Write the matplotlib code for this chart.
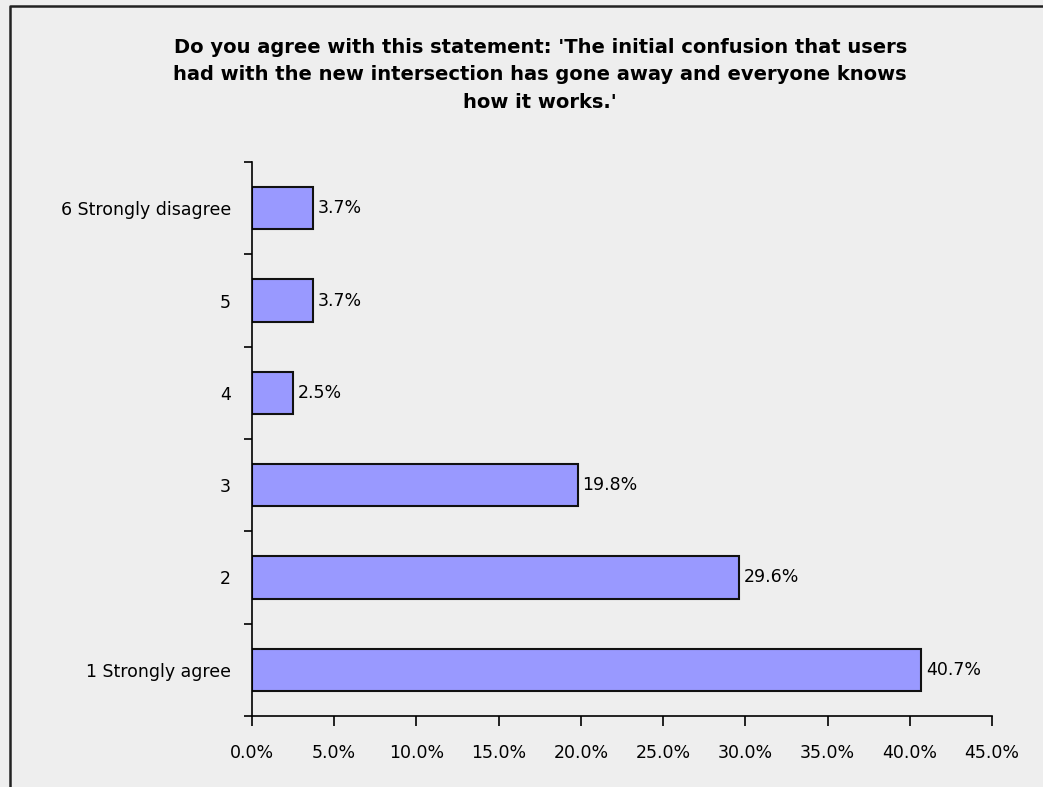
import numpy as np
import matplotlib.pyplot as plt
from matplotlib.lines import Line2D

categories = ['1 Strongly agree', '2', '3', '4', '5', '6 Strongly disagree']
values = [40.7, 29.6, 19.8, 2.5, 3.7, 3.7]
xticks = [0, 5, 10, 15, 20, 25, 30, 35, 40, 45]

title = ("Do you agree with this statement: 'The initial confusion that users\n"
         "had with the new intersection has gone away and everyone knows\n"
         "how it works.'")

bg = '#eeeeee'
fig = plt.figure(figsize=(10.43, 7.87), dpi=100, facecolor=bg)
# outer frame: only left and top edges are visible
fx, fy = 10 / 1043, 1 - 6 / 787
fig.lines.append(Line2D([fx, fx, 1.01], [-0.01, fy, fy], transform=fig.transFigure,
                        color='#222222', linewidth=1.8))

ax = fig.add_axes([252 / 1043, 1 - 716 / 787, (992 - 252) / 1043, (716 - 162) / 787])
ax.set_facecolor(bg)

y = np.arange(len(categories))
ax.barh(y, values, height=0.46, color='#9999ff', edgecolor='#111111', linewidth=1.5)
for yi, v in zip(y, values):
    ax.text(v + 0.3, yi, '%.1f%%' % v, va='center', ha='left', fontsize=12.5)

ax.set_xlim(0, 45)
ax.set_ylim(-0.5, len(categories) - 0.5)
ax.set_xticks(xticks)
ax.set_xticklabels(['%.1f%%' % t for t in xticks], fontsize=12.5)
ax.set_yticks(np.arange(-0.5, len(categories), 1.0))
ax.set_yticklabels([])
ax.set_yticks(y, minor=True)
ax.set_yticklabels(categories, minor=True, fontsize=12.5)
ax.tick_params(axis='y', which='minor', length=0, pad=15)
ax.tick_params(axis='y', which='major', length=6, width=1.2)
ax.tick_params(axis='x', length=7, width=1.2, pad=13, direction='out')
for s in ['top', 'right']:
    ax.spines[s].set_visible(False)
for s in ['left', 'bottom']:
    ax.spines[s].set_linewidth(1.2)

fig.text(0.518, 1 - 38 / 787, title, ha='center', va='top', fontsize=14,
         fontweight='bold', linespacing=1.55)

fig.savefig('out.png', dpi=100, facecolor=bg)
